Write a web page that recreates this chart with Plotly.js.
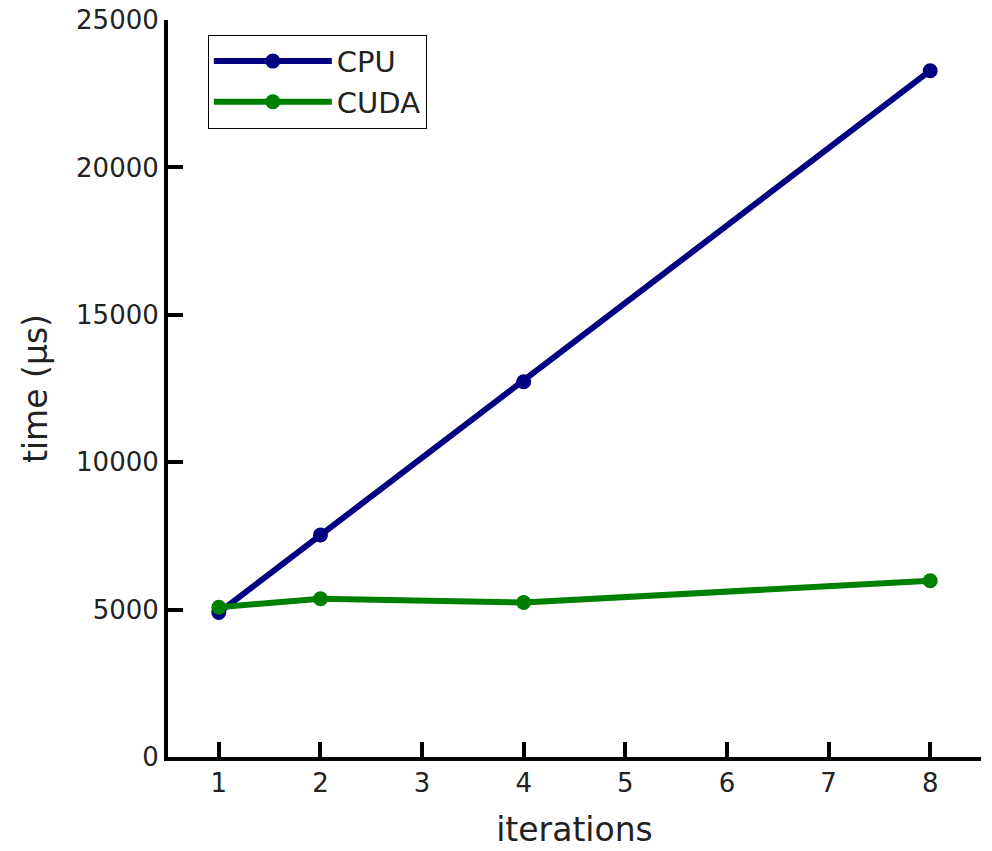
<!DOCTYPE html>
<html>
<head>
<meta charset="utf-8">
<script src="https://cdn.plot.ly/plotly-3.0.1.min.js"></script>
<style>
html, body { margin: 0; padding: 0; background: #fff; }
#chart { width: 992px; height: 851px; }
</style>
</head>
<body>
<div id="chart"></div>
<script>
const iterations = [1, 2, 4, 8];
const cpuTime = [4900, 7530, 12730, 23280];
const cudaTime = [5080, 5370, 5240, 5980];
const seriesNames = ["CPU", "CUDA"];
const xTickVals = [1, 2, 3, 4, 5, 6, 7, 8];
const yTickVals = [0, 5000, 10000, 15000, 20000, 25000];
const yTickText = ["0", "5000", "10000", "15000", "20000", "25000"];

const FONT = "DejaVu Sans, Liberation Sans, sans-serif";

const traces = [
  {
    x: iterations, y: cpuTime, name: seriesNames[0],
    type: "scatter", mode: "lines+markers",
    line: { color: "#000080", width: 6 },
    marker: { color: "#000080", size: 15 }
  },
  {
    x: iterations, y: cudaTime, name: seriesNames[1],
    type: "scatter", mode: "lines+markers",
    line: { color: "#008000", width: 6 },
    marker: { color: "#008000", size: 15 }
  }
];

const layout = {
  width: 992, height: 851,
  margin: { l: 168, r: 11, t: 20, b: 94, pad: 0 },
  paper_bgcolor: "#ffffff",
  plot_bgcolor: "#ffffff",
  font: { family: FONT, color: "#222222", size: 26 },
  showlegend: true,
  legend: {
    x: 0.049, y: 0.98, xanchor: "left", yanchor: "top",
    bgcolor: "#ffffff", bordercolor: "#000000", borderwidth: 1,
    font: { family: FONT, size: 29, color: "#222222" },
    itemwidth: 118, tracegroupgap: 0
  },
  xaxis: {
    range: [0.5, 8.5],
    tickmode: "array", tickvals: xTickVals,
    ticks: "inside", ticklen: 15, tickwidth: 4, tickcolor: "#000000",
    showline: true, linecolor: "#000000", linewidth: 4,
    showgrid: false, zeroline: false, mirror: false,
    tickfont: { family: FONT, size: 26, color: "#222222" },
    title: { text: "iterations", font: { family: FONT, size: 33, color: "#222222" }, standoff: 22 }
  },
  yaxis: {
    range: [0, 25000],
    tickmode: "array", tickvals: yTickVals, ticktext: yTickText,
    ticks: "inside", ticklen: 15, tickwidth: 4, tickcolor: "#000000",
    showline: true, linecolor: "#000000", linewidth: 4,
    showgrid: false, zeroline: false, mirror: false,
    tickfont: { family: FONT, size: 26, color: "#222222" },
    title: { text: "time (µs)", font: { family: FONT, size: 33, color: "#222222" }, standoff: 20 }
  }
};

Plotly.newPlot("chart", traces, layout, { displayModeBar: false, staticPlot: true });
</script>
</body>
</html>
